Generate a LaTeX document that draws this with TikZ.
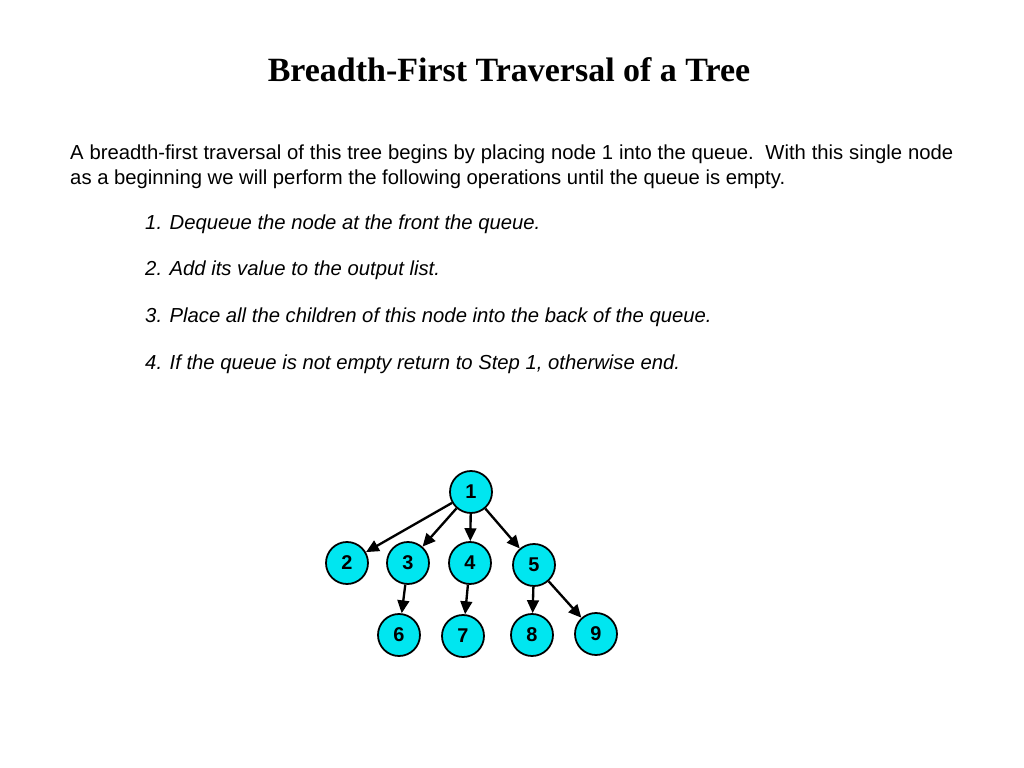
\documentclass[tikz,border=0pt]{standalone}
\usepackage{fontspec}
\setmainfont{Liberation Serif}
\setsansfont{Liberation Sans}
\usetikzlibrary{arrows.meta}
\definecolor{nodecyan}{RGB}{0,230,240}
\tikzset{
  x=0.03cm, y=-0.03cm,
  >={Triangle[length=11pt,width=10pt]},
  tnode/.style={circle, draw, line width=1.5pt, fill=nodecyan, minimum size=42*0.03cm, inner sep=0pt,
    font=\sffamily\bfseries\fontsize{17}{17}\selectfont},
  edge/.style={->, line width=2pt},
  body/.style={anchor=north west, inner sep=0pt, font=\sffamily\fontsize{17.3}{21}\selectfont},
  itembody/.style={body, font=\sffamily\itshape\fontsize{17.3}{21}\selectfont},
}
\begin{document}
\begin{tikzpicture}
  \fill[white] (0,0) rectangle (1024,768);
  \node[font=\bfseries\fontsize{29}{29}\selectfont] (title) at (509,70) {Breadth-First Traversal of a Tree};
  \node[body, text width=883*0.03cm, align=justify] (intro) at (70,145)
    {A breadth-first traversal of this tree begins by placing node 1 into the queue.\ \ With this single node as a beginning we will perform the following operations until the queue is empty.};
  \node[itembody] (s1) at (145,215) {1. Dequeue the node at the front the queue.};
  \node[itembody] (s2) at (145,261) {2. Add its value to the output list.};
  \node[itembody] (s3) at (145,308) {3. Place all the children of this node into the back of the queue.};
  \node[itembody] (s4) at (145,355) {4. If the queue is not empty return to Step 1, otherwise end.};

  % tree
  \node[tnode] (n1) at (471,492) {1};
  \node[tnode] (n2) at (347,563) {2};
  \node[tnode] (n3) at (408,563) {3};
  \node[tnode] (n4) at (470,563) {4};
  \node[tnode] (n5) at (534,565) {5};
  \node[tnode] (n6) at (399,635) {6};
  \node[tnode] (n7) at (463,636) {7};
  \node[tnode] (n8) at (532,635) {8};
  \node[tnode] (n9) at (596,634) {9};

  \draw[edge] (n1) -- (n2);
  \draw[edge] (n1) -- (n3);
  \draw[edge] (n1) -- (n4);
  \draw[edge] (n1) -- (n5);
  \draw[edge] (n3) -- (n6);
  \draw[edge] (n4) -- (n7);
  \draw[edge] (n5) -- (n8);
  \draw[edge] (n5) -- (n9);
\end{tikzpicture}
\end{document}
